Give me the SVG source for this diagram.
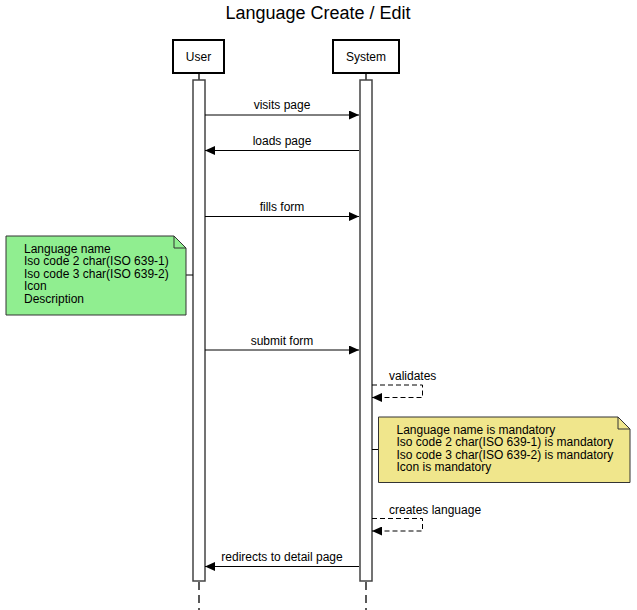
<svg xmlns="http://www.w3.org/2000/svg" width="637" height="610" viewBox="0 0 637 610">
<style>
text{font-family:"Liberation Sans",Arial,sans-serif;font-size:12px;fill:#000}
.title{font-size:18px}
.actor{fill:#fff;stroke:#000;stroke-width:2}
.bar{fill:#fff;stroke:#444;stroke-width:1.5}
.life{stroke:#000;stroke-width:1.3;fill:none}
.dash{stroke:#000;stroke-width:1.3;stroke-dasharray:8 5;fill:none}
.msg{stroke:#000;stroke-width:1;fill:none}
.smsg{stroke:#000;stroke-width:1;fill:none;stroke-dasharray:5 3}
.note{stroke:#333;stroke-width:1}
</style>
<defs>
<marker id="ah" markerWidth="10" markerHeight="9" refX="10" refY="4.5" orient="auto" markerUnits="userSpaceOnUse">
<path d="M0,0 L10,4.5 L0,9 Z" fill="#000"/>
</marker>
</defs>
<text class="title" x="318" y="19" text-anchor="middle">Language Create / Edit</text>
<g id="lifelines">
<line class="life" x1="199" y1="73" x2="199" y2="80"/>
<line class="life" x1="366" y1="73" x2="366" y2="80"/>
<line class="dash" x1="199" y1="582" x2="199" y2="610"/>
<line class="dash" x1="366" y1="582" x2="366" y2="610"/>
</g>
<g id="user">
<rect class="actor" x="173" y="40" width="51" height="33"/>
<text x="198.5" y="61" text-anchor="middle">User</text>
<rect class="bar" x="193" y="80" width="12" height="501"/>
</g>
<g id="system">
<rect class="actor" x="333" y="40" width="66" height="33"/>
<text x="366" y="61" text-anchor="middle">System</text>
<rect class="bar" x="360" y="80" width="12" height="501"/>
</g>
<g id="connectors">
<line class="msg" x1="205" y1="115" x2="359" y2="115" marker-end="url(#ah)"/>
<text x="282" y="109" text-anchor="middle">visits page</text>
<line class="msg" x1="359" y1="150.5" x2="205" y2="150.5" marker-end="url(#ah)"/>
<text x="282" y="144.5" text-anchor="middle">loads page</text>
<line class="msg" x1="205" y1="216.5" x2="359" y2="216.5" marker-end="url(#ah)"/>
<text x="282" y="211" text-anchor="middle">fills form</text>
<line class="msg" x1="205" y1="350" x2="359" y2="350" marker-end="url(#ah)"/>
<text x="282" y="344.5" text-anchor="middle">submit form</text>
<path class="smsg" d="M372,385 H422.5 V397.5 H372" marker-end="url(#ah)"/>
<text x="389" y="380">validates</text>
<path class="smsg" d="M372,518.5 H422.5 V531 H372" marker-end="url(#ah)"/>
<text x="389" y="513.5">creates language</text>
<line class="msg" x1="359" y1="566.5" x2="205" y2="566.5" marker-end="url(#ah)"/>
<text x="282" y="561" text-anchor="middle">redirects to detail page</text>
<line class="msg" x1="186" y1="275" x2="193" y2="275"/>
<line class="msg" x1="372" y1="449.5" x2="378" y2="449.5"/>
</g>
<g id="note-form">
<path class="note" fill="#90ee90" d="M6,236 H174 L186,248 V315 H6 Z"/>
<path class="note" fill="none" d="M174,236 V248 H186"/>
<text x="24" y="252.5">Language name</text>
<text x="24" y="265">Iso code 2 char(ISO 639-1)</text>
<text x="24" y="277.5">Iso code 3 char(ISO 639-2)</text>
<text x="24" y="290">Icon</text>
<text x="24" y="302.5">Description</text>
</g>
<g id="note-validation">
<path class="note" fill="#f0e68c" d="M378.5,417 H618 L630,429 V482.5 H378.5 Z"/>
<path class="note" fill="none" d="M618,417 V429 H630"/>
<text x="396.5" y="433.5">Language name is mandatory</text>
<text x="396.5" y="446">Iso code 2 char(ISO 639-1) is mandatory</text>
<text x="396.5" y="458.5">Iso code 3 char(ISO 639-2) is mandatory</text>
<text x="396.5" y="471">Icon is mandatory</text>
</g>
</svg>
